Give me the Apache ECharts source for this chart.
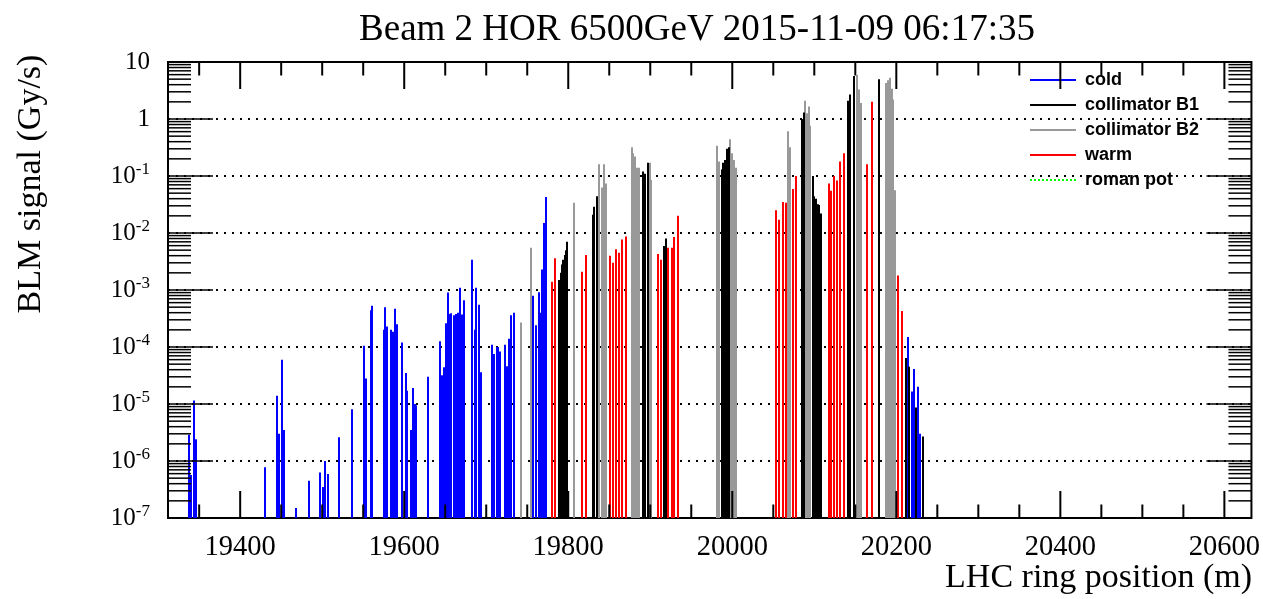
<!DOCTYPE html>
<html><head><meta charset="utf-8">
<script src="https://cdn.jsdelivr.net/npm/echarts@6/dist/echarts.min.js"></script>
<style>html,body{margin:0;padding:0;background:#fff}#c{width:1263px;height:599px}</style>
</head><body><div id="c"></div>
<script>
// ---- data (position in m, BLM signal in Gy/s) ----
const coldPos = [19337,19340.6,19343.5,19346.3,19430,19445,19447,19451,19453.7,19468,19484,19497.6,19501,19504,19507,19521,19536.6,19551,19554,19559.4,19561.3,19575,19577,19579,19584,19586,19589,19591.5,19597,19601.6,19604,19607.7,19610.6,19612.6,19614.6,19629,19643.5,19646,19648.4,19651,19653,19655,19657,19660.6,19663,19666,19668,19670,19673,19683,19686,19688,19691.5,19694,19707,19709,19712.6,19714.6,19717.4,19723,19725.6,19728,19730.5,19734,19756.5,19760.6,19764,19765.5,19768,19771,19773,20214,20218.6,20221.6,20226.5,20229.3];
const coldVal = [2.9e-6,5.7e-7,1.15e-5,2.4e-6,7.8e-7,1.4e-5,3e-6,6e-5,3.5e-6,1.5e-7,4.5e-7,6.3e-7,3.5e-7,1e-6,5.9e-7,2.6e-6,8.1e-6,1.05e-4,2.8e-5,4.4e-4,5.3e-4,2e-4,5e-4,2.3e-4,2e-4,1.85e-4,4.7e-4,2.5e-4,1.2e-4,3.5e-5,1.7e-5,3.5e-6,1.9e-5,1e-5,9.5e-6,3e-5,1.26e-4,3.2e-5,4.4e-5,2.6e-4,9e-4,3.8e-4,3.9e-4,3.6e-4,3.8e-4,4e-4,1.1e-3,3.7e-4,6.6e-4,3.4e-3,2e-4,1.1e-3,5.5e-4,3.6e-5,1.1e-4,7.5e-5,1e-4,1e-4,8.3e-5,1.1e-4,4.6e-5,1.4e-4,3.6e-4,4e-4,7.9e-4,2.4e-4,9.1e-4,4e-4,2.3e-3,1.5e-2,4.3e-2,1.5e-4,1.65e-5,4.1e-5,2e-5,3e-6];
const collB1Pos = [19789,19790.6,19792.3,19794,19795.5,19797.2,19799,19829.6,19832,19834.5,19891.5,19894,19896.7,19917,19919,19987,19989,19991.5,19994,19995.5,20085,20087,20098,20100,20102,20104,20106,20108.5,20141.5,20143.5,20148,20179,20212,20215.5,20223.5,20232];
const collB1Val = [1.5e-3,2e-3,2.8e-3,3.4e-3,4.1e-3,5e-3,7e-3,0.021,0.029,0.044,0.12,0.11,0.17,5.9e-3,8e-3,0.13,0.17,0.19,0.3,0.32,1.0,1.3,0.1,0.044,0.04,0.032,0.031,0.022,2.1,2.7,5.7,5.0,6.4e-5,4.5e-5,8.7e-6,2.7e-6];
const collB2Pos = [19742.7,19754.5,19807,19838,19841,19843.5,19846,19877.7,19879.3,19881.7,19883.8,19886.6,19899.6,19901.2,19981.3,19983.3,19997.6,19999.6,20002.4,20004.5,20068,20070.4,20089,20091,20093,20095,20152,20155,20157,20188,20190,20192.3,20194.3,20196,20198];
const collB2Val = [2.7e-4,5.5e-3,0.034,0.16,0.063,0.16,0.074,0.32,0.25,0.22,0.14,0.14,0.17,0.085,0.34,0.18,0.44,0.25,0.19,0.14,0.61,0.32,2.1,1.26,1.65,0.76,5.9,3.3,1.9,4.3,4.8,5.3,3.4,2.2,0.056];
const warmPos = [19779.6,19783.8,19817,19822,19851,19854.5,19858.5,19862,19866,19870.4,19909,19913,19922,19926.5,19929.3,19933.3,20053.3,20057.3,20061.3,20066,20074,20077.7,20117.4,20120.7,20124.4,20127.7,20131.7,20136.2,20164.3,20170,20202.4,20206.5];
const warmVal = [1.4e-3,3.6e-3,2.1e-3,4.1e-3,4e-3,3e-3,5.2e-3,4.5e-3,7.7e-3,8.7e-3,4.3e-3,3.4e-3,5.5e-3,5.5e-3,8.5e-3,0.02,0.025,0.017,0.035,0.034,0.059,0.1,0.074,0.055,0.1,0.083,0.18,0.25,0.16,2.0,1.8e-3,4.3e-4];
const romanPotPos = [];
const romanPotVal = [];
const xTickLabels = [19400,19600,19800,20000,20200,20400,20600];

const X_MIN = 19312, X_MAX = 20633, Y_MIN = 1e-7, Y_MAX = 10;

function zip(a,b){ return a.map((v,i)=>[v,b[i]]); }

function barRender(color){
  return function(params, api){
    const top = api.coord([api.value(0), api.value(1)]);
    const bot = api.coord([api.value(0), Y_MIN]);
    return {type:'rect', shape:{x:Math.round(top[0])-1, y:top[1], width:2, height:bot[1]-top[1]}, style:{fill:color}};
  };
}

function tickRender(params, api){
  const ch = [];
  const bl = api.coord([X_MIN, Y_MIN]);
  const tr = api.coord([X_MAX, Y_MAX]);
  const ln = (x1,y1,x2,y2,w)=>({type:'line', shape:{x1,y1,x2,y2}, style:{stroke:'#000', lineWidth:w}});
  for (let m = 19350; m <= 20600; m += 50) {
    const x = api.coord([m, Y_MIN])[0];
    const L = (m % 200 === 0) ? 27 : 13.5;
    ch.push(ln(x, bl[1], x, bl[1]-L, 2));
    ch.push(ln(x, tr[1], x, tr[1]+L, 2));
  }
  for (let d = -7; d <= 0; d++) {
    for (let k = 1; k <= 9; k++) {
      if (d === -7 && k === 1) continue;
      const y = api.coord([X_MIN, k*Math.pow(10,d)])[1];
      const L = (k === 1) ? 45 : 23;
      ch.push(ln(bl[0], y, bl[0]+L, y, 1.5));
      ch.push(ln(tr[0], y, tr[0]-L, y, 1.5));
    }
  }
  return {type:'group', children:ch};
}

let dotted = 'path://';
for (let i = 0; i < 46; i += 4) dotted += 'M'+i+',0h2v2h-2z';

const serif = '"Liberation Serif", "DejaVu Serif", serif';
const chart = echarts.init(document.getElementById('c'));
chart.setOption({
  animation:false,
  backgroundColor:'#fff',
  grid:{left:168, right:10, top:62, bottom:81, show:true, borderColor:'#000', borderWidth:2, backgroundColor:'transparent'},
  xAxis:{type:'value', min:X_MIN, max:X_MAX, splitNumber:6,
    axisLine:{show:false}, axisTick:{show:false}, splitLine:{show:false},
    axisLabel:{fontFamily:serif, fontSize:28.5, color:'#000', margin:15, showMinLabel:false, showMaxLabel:false,
      formatter:v => xTickLabels.indexOf(Math.round(v)) >= 0 ? String(Math.round(v)) : ''}},
  yAxis:{type:'log', logBase:10, min:Y_MIN, max:Y_MAX, splitNumber:8,
    axisLine:{show:false}, axisTick:{show:false},
    splitLine:{show:true, lineStyle:{color:'#000', width:2, type:[2,6]}},
    axisLabel:{margin:18, color:'#000', fontFamily:serif, fontSize:25,
      formatter:v => { const d = Math.round(Math.log10(v)); if (d === 1) return '10'; if (d === 0) return '1'; return '10{s|' + d + '}'; },
      rich:{s:{fontFamily:serif, fontSize:17, color:'#000', verticalAlign:'top', padding:[0,0,12,0]}}}},
  legend:{orient:'vertical', left:1030, top:71, itemWidth:46, itemHeight:2, itemGap:7, padding:0, selectedMode:false,
    textStyle:{fontFamily:'"Liberation Sans", Arial, sans-serif', fontWeight:'bold', fontSize:18, color:'#000', padding:[0,0,0,4]},
    data:[{name:'cold', icon:'rect'},{name:'collimator B1', icon:'rect'},{name:'collimator B2', icon:'rect'},{name:'warm', icon:'rect'},{name:'roman pot', icon:dotted}]},
  graphic:[
    {type:'text', x:697, y:30, style:{text:'Beam 2 HOR 6500GeV 2015-11-09 06:17:35', font:'37px ' + serif, fill:'#000', align:'center', verticalAlign:'middle', textAlign:'center', textVerticalAlign:'middle'}},
    {type:'text', x:1252, y:578, style:{text:'LHC ring position (m)', font:'34px ' + serif, fill:'#000', align:'right', verticalAlign:'middle', textAlign:'right', textVerticalAlign:'middle'}},
    {type:'text', x:31, y:184, rotation:Math.PI/2, style:{text:'BLM signal (Gy/s)', font:'34px ' + serif, fill:'#000', align:'center', verticalAlign:'middle', textAlign:'center', textVerticalAlign:'middle'}}
  ],
  series:[
    {name:'cold', type:'custom', renderItem:barRender('#0000ff'), itemStyle:{color:'#0000ff'}, encode:{x:0,y:1}, data:zip(coldPos, coldVal), z:2},
    {name:'collimator B1', type:'custom', renderItem:barRender('#000000'), itemStyle:{color:'#000000'}, encode:{x:0,y:1}, data:zip(collB1Pos, collB1Val), z:3},
    {name:'collimator B2', type:'custom', renderItem:barRender('#999999'), itemStyle:{color:'#999999'}, encode:{x:0,y:1}, data:zip(collB2Pos, collB2Val), z:2},
    {name:'warm', type:'custom', renderItem:barRender('#ff0000'), itemStyle:{color:'#ff0000'}, encode:{x:0,y:1}, data:zip(warmPos, warmVal), z:2},
    {name:'roman pot', type:'custom', renderItem:barRender('#00ff00'), itemStyle:{color:'#00ff00'}, encode:{x:0,y:1}, data:zip(romanPotPos, romanPotVal), z:2},
    {name:'axisTicks', type:'custom', renderItem:tickRender, silent:true, data:[[X_MIN, Y_MIN]], encode:{x:0,y:1}, z:10, clip:false}
  ]
});
</script></body></html>
